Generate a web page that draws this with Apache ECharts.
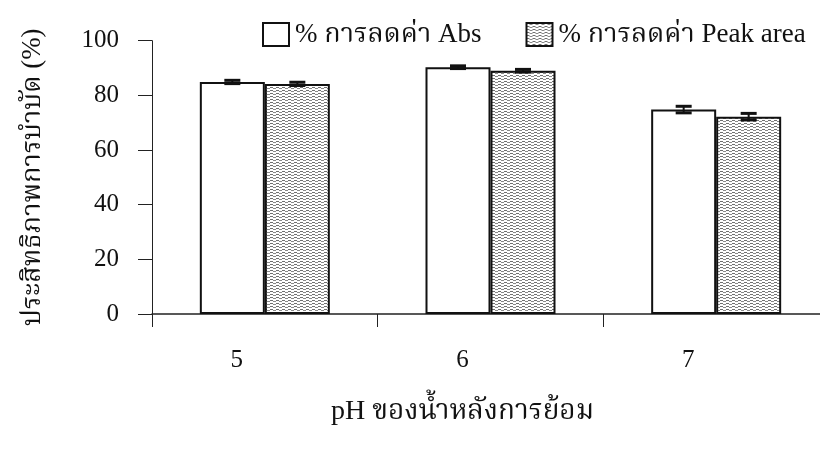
<!DOCTYPE html>
<html>
<head>
<meta charset="utf-8">
<script src="https://cdn.jsdelivr.net/npm/echarts@6/dist/echarts.min.js"></script>
<style>
  html, body { margin: 0; padding: 0; background: #fff; overflow: hidden; }
  #chart { width: 830px; height: 452px; }
</style>
</head>
<body>
<div id="chart"></div>
<script>
// pH categories and removal efficiencies (mean ± error)
const categories = ['5', '6', '7'];
const absValues = [84.9, 90.3, 74.8];
const absErrors = [0.6, 0.5, 1.2];
const peakValues = [84.2, 89.0, 72.2];
const peakErrors = [0.6, 0.5, 1.2];
const yTickValues = [0, 20, 40, 60, 80, 100];

const seriesNames = ['% การลดค่า Abs', '% การลดค่า Peak area'];
const xAxisTitle = 'pH ของน้ำหลังการย้อม';
const yAxisTitle = 'ประสิทธิภาพการบำบัด (%)';

const FONT = "'Liberation Serif', 'Noto Serif Thai', 'Noto Sans Thai', serif";
const BAR_W = 65;

// fine horizontal line fill for the second series
function hatchCanvas() {
  const c = document.createElement('canvas');
  c.width = 6; c.height = 3;
  const ctx = c.getContext('2d');
  ctx.fillStyle = '#ffffff';
  ctx.fillRect(0, 0, 6, 3);
  ctx.fillStyle = '#707070';
  ctx.fillRect(0, 0, 3, 1);
  ctx.fillStyle = '#8a8a8a';
  ctx.fillRect(3, 1, 3, 1);
  return c;
}
const hatchFill = { image: hatchCanvas(), repeat: 'repeat' };

// error bar with caps, shifted to the centre of its bar
function errorRenderer(values, errors, side) {
  return function (params, api) {
    const i = api.value(0);
    const v = values[i], e = errors[i];
    const top = api.coord([i, v + e]);
    const bot = api.coord([i, v - e]);
    const x = top[0] + side * BAR_W / 2;
    const half = 8;
    const style = { stroke: '#111', lineWidth: 3 };
    return {
      type: 'group',
      children: [
        { type: 'line', shape: { x1: x, y1: top[1], x2: x, y2: bot[1] }, style: { stroke: '#111', lineWidth: 2 } },
        { type: 'line', shape: { x1: x - half, y1: top[1], x2: x + half, y2: top[1] }, style },
        { type: 'line', shape: { x1: x - half, y1: bot[1], x2: x + half, y2: bot[1] }, style }
      ]
    };
  };
}

const chart = echarts.init(document.getElementById('chart'), null, { renderer: 'canvas' });
chart.setOption({
  animation: false,
  backgroundColor: '#ffffff',
  textStyle: { fontFamily: FONT, color: '#111' },
  legend: {
    left: 257, top: 16,
    icon: 'rect',
    itemWidth: 26, itemHeight: 23,
    itemGap: 44,
    data: seriesNames,
    textStyle: { fontFamily: FONT, fontSize: 27, color: '#111', padding: [0, 0, 0, 1] }
  },
  grid: { left: 152, top: 40.7, width: 677, height: 273.3, containLabel: false },
  xAxis: {
    type: 'category',
    data: categories,
    boundaryGap: true,
    axisLine: { lineStyle: { color: '#222', width: 1.5 } },
    axisTick: { show: true, length: 13, interval: 0, lineStyle: { color: '#222', width: 1 } },
    axisLabel: { margin: 34, fontFamily: FONT, fontSize: 25, color: '#111', padding: [0, 56, 0, 0] },
    name: xAxisTitle,
    nameLocation: 'middle',
    nameGap: 84,
    nameTextStyle: { fontFamily: FONT, fontSize: 28, color: '#111', padding: [0, 56, 0, 0] }
  },
  yAxis: {
    type: 'value',
    min: yTickValues[0],
    max: yTickValues[yTickValues.length - 1],
    interval: yTickValues[1] - yTickValues[0],
    axisLine: { show: true, lineStyle: { color: '#222', width: 1 } },
    axisTick: { show: true, length: 14, lineStyle: { color: '#222', width: 1 } },
    splitLine: { show: false },
    axisLabel: { margin: 33, fontFamily: FONT, fontSize: 25, color: '#111' },
    name: yAxisTitle,
    nameLocation: 'middle',
    nameRotate: 90,
    nameGap: 106,
    nameTextStyle: { fontFamily: FONT, fontSize: 27, color: '#111' }
  },
  series: [
    {
      name: seriesNames[0],
      type: 'bar',
      data: absValues,
      barWidth: BAR_W,
      barGap: '0%',
      itemStyle: { color: '#ffffff', borderColor: '#111', borderWidth: 2 }
    },
    {
      name: seriesNames[1],
      type: 'bar',
      data: peakValues,
      barWidth: BAR_W,
      barGap: '0%',
      itemStyle: { color: hatchFill, borderColor: '#111', borderWidth: 2 }
    },
    {
      type: 'custom',
      data: categories.map((c, i) => [i]),
      renderItem: errorRenderer(absValues, absErrors, -1),
      z: 10, silent: true
    },
    {
      type: 'custom',
      data: categories.map((c, i) => [i]),
      renderItem: errorRenderer(peakValues, peakErrors, 1),
      z: 10, silent: true
    }
  ]
});
</script>
</body>
</html>
